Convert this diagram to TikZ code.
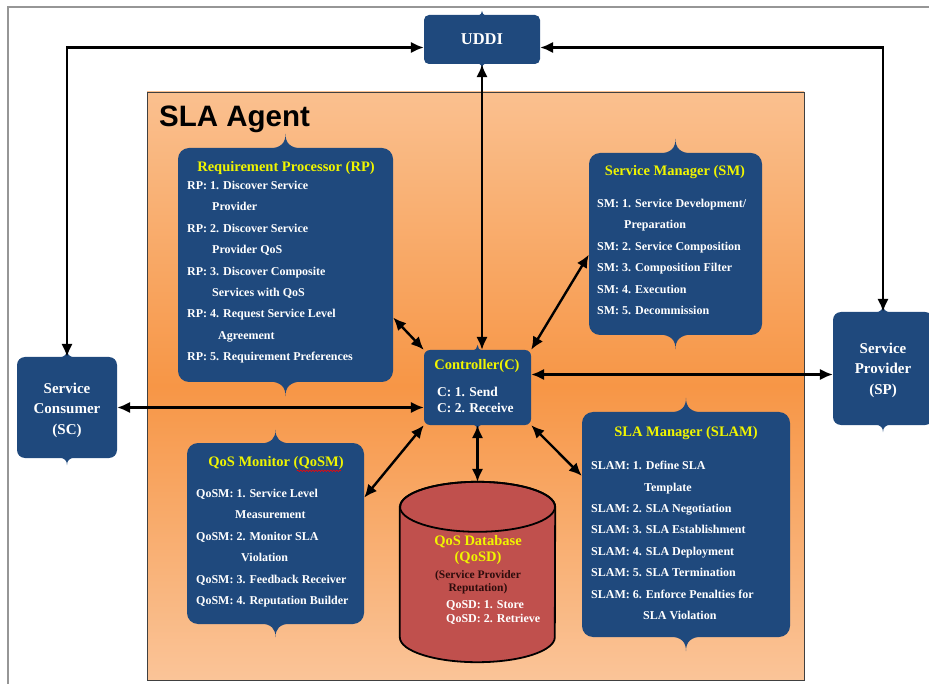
\documentclass[tikz,border=0pt]{standalone}
\usepackage{fontspec}
\setmainfont{Liberation Serif}
\newfontfamily\agentfont{Liberation Sans}
\usetikzlibrary{arrows.meta,decorations.pathmorphing}

\definecolor{boxblue}{RGB}{31,73,125}
\definecolor{titleyellow}{RGB}{240,245,0}
\definecolor{agentlight}{RGB}{250,192,143}
\definecolor{agentdark}{RGB}{247,150,70}
\definecolor{agentlow}{RGB}{250,196,152}
\definecolor{dbred}{RGB}{192,80,77}
\definecolor{dbtext}{RGB}{45,12,12}
\definecolor{framegray}{RGB}{150,150,150}

% little points on top and bottom of the blue boxes
\newcommand\boxpeaks[2]{%
  \fill[boxblue] ([xshift=-1.2*#2, yshift=-1pt]#1.north)
    .. controls ([xshift=-0.3*#2]#1.north) and ([yshift=0.35*#2]#1.north) .. ([yshift=#2]#1.north)
    .. controls ([yshift=0.35*#2]#1.north) and ([xshift=0.3*#2]#1.north) .. ([xshift=1.2*#2, yshift=-1pt]#1.north) -- cycle;
  \fill[boxblue] ([xshift=-1.2*#2, yshift=1pt]#1.south)
    .. controls ([xshift=-0.3*#2]#1.south) and ([yshift=-0.35*#2]#1.south) .. ([yshift=-#2]#1.south)
    .. controls ([yshift=-0.35*#2]#1.south) and ([xshift=0.3*#2]#1.south) .. ([xshift=1.2*#2, yshift=1pt]#1.south) -- cycle;
}

\begin{document}
\begin{tikzpicture}[x=1pt,y=-1pt,
    >={Latex[length=13pt,width=11.5pt]},
    bluebox/.style={fill=boxblue, rounded corners=#1, inner sep=0pt},
    bluebox/.default=11pt,
    boxtitle/.style={text=titleyellow, font=\fontsize{14.5}{16}\selectfont\bfseries, inner sep=0pt},
    boxitems/.style={text=white, font=\fontsize{12}{21.4}\selectfont\bfseries, align=left, anchor=north west, inner sep=0pt},
    actor/.style={bluebox=8pt, text=white, font=\fontsize{15}{20.5}\selectfont\bfseries, align=center},
    conn/.style={<->, line width=2.4pt}]

  \useasboundingbox (0,0) rectangle (929,684);
  \draw[framegray, line width=1.2pt] (935,7) -- (8,7) -- (8,690);

  % the agent
  \node[draw=black!75, line width=0.8pt, top color=agentlight, bottom color=agentlow, middle color=agentdark,
        minimum width=657pt, minimum height=588pt, inner sep=0pt] (agent) at (475.5,386) {};
  \node[anchor=base west, inner sep=0pt, font=\agentfont\fontsize{29.5}{30}\selectfont\bfseries] (agentname) at (159,127) {SLA Agent};

  % outside parties
  \node[bluebox=5pt, minimum width=116pt, minimum height=49pt, text=white, font=\fontsize{16.5}{18}\selectfont\bfseries] (uddi) at (482,39.5) {UDDI};
  \node[actor, minimum width=100pt, minimum height=101pt] (sc) at (67,407.5) {\rule{0pt}{16pt}Service\\Consumer\\(SC)};
  \node[actor, minimum width=100pt, minimum height=113pt] (sp) at (883,368.5) {\rule{0pt}{14pt}Service\\Provider\\(SP)};

  % requirement processor
  \node[bluebox, minimum width=215pt, minimum height=234pt] (rp) at (285.5,265) {};
  \node[boxtitle] (rptitle) at (286,168) {Requirement Processor (RP)};
  \node[boxitems] (rplist) at (187,181) {RP: 1. Discover Service\\\hspace*{25pt}Provider\\
    RP: 2. Discover Service\\\hspace*{25pt}Provider QoS\\
    RP: 3. Discover Composite\\\hspace*{25pt}Services with QoS\\
    RP: 4. Request Service Level\\\hspace*{31pt}Agreement\\
    RP: 5. Requirement Preferences};

  % service manager
  \node[bluebox, minimum width=173pt, minimum height=182pt] (sm) at (675.5,244) {};
  \node[boxtitle] (smtitle) at (675,172) {Service Manager (SM)};
  \node[boxitems] (smlist) at (597,199) {SM: 1. Service Development/\\\hspace*{27pt}Preparation\\
    SM: 2. Service Composition\\SM: 3. Composition Filter\\SM: 4. Execution\\SM: 5. Decommission};

  % controller
  \node[bluebox=6pt, minimum width=107pt, minimum height=75pt] (ctrl) at (477.5,387.5) {};
  \node[boxtitle] (ctrltitle) at (477,366) {Controller(C)};
  \node[boxitems, font=\fontsize{13.5}{15.5}\selectfont\bfseries] (ctrllist) at (437,387) {C: 1. Send\\C: 2. Receive};

  % sla manager
  \node[bluebox, minimum width=208pt, minimum height=225pt] (slam) at (686,524.5) {};
  \node[boxtitle] (slamtitle) at (686,433) {SLA Manager (SLAM)};
  \node[boxitems] (slamlist) at (591,461) {SLAM: 1. Define SLA\\\hspace*{53pt}Template\\
    SLAM: 2. SLA Negotiation\\SLAM: 3. SLA Establishment\\SLAM: 4. SLA Deployment\\
    SLAM: 5. SLA Termination\\SLAM: 6. Enforce Penalties for\\\hspace*{52pt}SLA Violation};

  % qos monitor
  \node[bluebox, minimum width=177pt, minimum height=181pt] (qosm) at (275.5,533.5) {};
  \node[boxtitle] (qosmtitle) at (276,463) {QoS Monitor (QoSM)};
  \draw[red, line width=0.6pt, decorate, decoration={snake, amplitude=0.8pt, segment length=3pt}]
    ([xshift=-47pt, yshift=-1pt]qosmtitle.south east) -- ([xshift=-3pt, yshift=-1pt]qosmtitle.south east);
  \node[boxitems] (qosmlist) at (196,489) {QoSM: 1. Service Level\\\hspace*{39pt}Measurement\\
    QoSM: 2. Monitor SLA\\\hspace*{45pt}Violation\\QoSM: 3. Feedback Receiver\\QoSM: 4. Reputation Builder};

  % database
  \node[minimum width=155pt, minimum height=180pt, inner sep=0pt] (db) at (477.5,572) {};
  \filldraw[fill=dbred, line width=1.8pt] ([yshift=-25pt]db.north west) -- ([yshift=25pt]db.south west)
    arc[start angle=180, end angle=360, x radius=77.5pt, y radius=25pt] -- ([yshift=-25pt]db.north east)
    arc[start angle=0, end angle=180, x radius=77.5pt, y radius=25pt] -- cycle;
  \draw[line width=1.8pt] ([yshift=-25pt]db.north) ellipse[x radius=77.5pt, y radius=25pt];
  \node[boxtitle, align=center] (dbtitle) at (478,550) {QoS Database\\(QoSD)};
  \node[text=dbtext, font=\fontsize{11.5}{12.5}\selectfont\bfseries, align=center, inner sep=0pt] (dbnote) at (478,582) {(Service Provider\\Reputation)};
  \node[boxitems, font=\fontsize{12}{14}\selectfont\bfseries] (dblist) at (446,600) {QoSD: 1. Store\\QoSD: 2. Retrieve};

  \foreach \n/\h in {uddi/4pt, sc/7pt, sp/7pt, rp/14pt, sm/14pt, ctrl/5pt, slam/14pt, qosm/13pt}
    {\boxpeaks{\n}{\h}}

  % connections
  \draw[conn] (sc.north) |- ([yshift=-8pt]uddi.west);
  \draw[conn] ([yshift=-8pt]uddi.east) -| (sp.north);
  \draw[conn] (uddi.south) -- (uddi.south |- ctrl.north);
  \draw[conn] (sc.east) -- (sc.east -| ctrl.west);
  \draw[conn] ([yshift=13pt]ctrl.east) -- ([yshift=13pt]ctrl.east -| sp.west);
  \draw[conn] (ctrl.north west) -- (rp.-26);
  \draw[conn] (ctrl.north east) -- (sm.187);
  \draw[conn] (ctrl.south east) -- (slam.155);
  \draw[conn] (ctrl.south west) -- (qosm.22);
  \draw[conn] (db.north |- ctrl.south) -- (db.north);
\end{tikzpicture}
\end{document}
